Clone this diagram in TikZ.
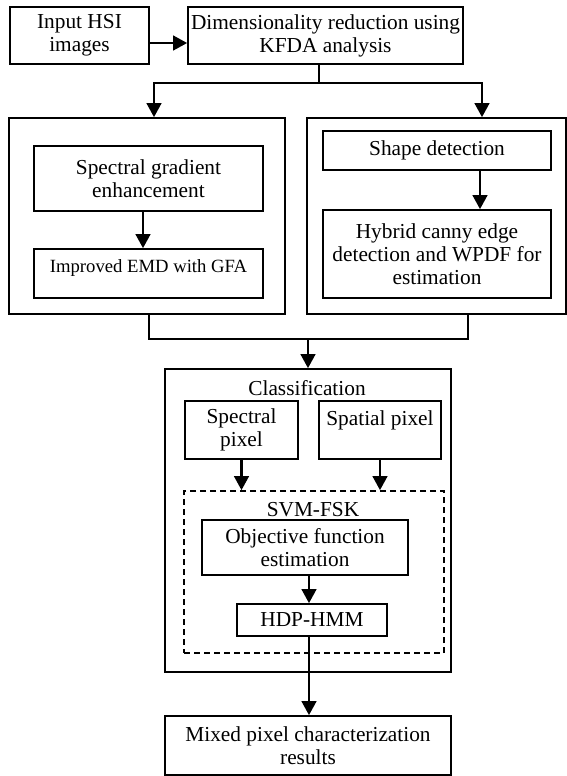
\documentclass[tikz,border=0pt]{standalone}
\usepackage{fontspec}
\setmainfont{Liberation Serif}
\usetikzlibrary{arrows.meta}

\begin{document}
\begin{tikzpicture}[x=0.75pt,y=0.75pt,yscale=-1,xscale=1,
    box/.style={draw, line width=1.3pt, inner sep=0pt, align=center, font=\fontsize{16}{17.3}\selectfont},
    grp/.style={draw, line width=1.3pt, inner sep=0pt},
    arr/.style={line width=1.7pt, -{Triangle[length=10.5pt,width=11pt]}},
    lnk/.style={line width=1.7pt},
    lbl/.style={inner sep=0pt, font=\fontsize{16}{17.3}\selectfont}]
    \useasboundingbox (0,0) rectangle (567,776);

    %Shape: Rectangle (top row)
    \node (inp) [box, minimum width=104.25pt, minimum height=42.75pt] at (79.5,35.5) {Input HSI\\images};
    \node (dim) [box, minimum width=206.25pt, minimum height=42.75pt] at (325.5,35.5) {Dimensionality reduction using\\KFDA analysis};

    %Shape: Rectangle (two branches)
    \node (lgrp) [grp, minimum width=207pt, minimum height=147pt] at (147,216) {};
    \node (rgrp) [grp, minimum width=194.25pt, minimum height=147pt] at (436.5,216) {};
    \node (sge) [box, minimum width=171.75pt, minimum height=48.75pt] at (148.5,178.5) {Spectral gradient\\enhancement};
    \node (emd) [box, font=\fontsize{14}{15.5}\selectfont, minimum width=171.75pt, minimum height=36.75pt] at (148.5,273.5) {Improved EMD with GFA\\[-5pt] \mbox{}};
    \node (shp) [box, minimum width=171pt, minimum height=29.25pt] at (437,150.5) {Shape detection};
    \node (hyb) [box, minimum width=171pt, minimum height=66pt] at (437,254) {Hybrid canny edge\\detection and WPDF for\\estimation};

    %Shape: Rectangle (classification)
    \node (cls) [grp, minimum width=214.5pt, minimum height=227.25pt] at (308,520.5) {};
    % Text Node
    \node (clst) [lbl] at (307,388) {Classification};
    \node (spx) [box, minimum width=84.75pt, minimum height=43.5pt] at (241.5,430) {Spectral\\pixel};
    \node (sppx) [box, minimum width=91.5pt, minimum height=43.5pt] at (380,430) {Spatial pixel\\ \mbox{}};
    \node (dsh) [grp, dash pattern={on 4.5pt off 3pt}, minimum width=195pt, minimum height=121.5pt] at (314,572) {};
    % Text Node
    \node (svmt) [lbl] at (313,510) {SVM-FSK};
    \node (obj) [box, minimum width=154.5pt, minimum height=41.25pt] at (305,547.5) {Objective function\\estimation};
    \node (hdp) [box, minimum width=112.5pt, minimum height=24pt] at (312,620) {HDP-HMM};

    %Shape: Rectangle (output)
    \node (mix) [box, minimum width=214.5pt, minimum height=44.25pt] at (308,745.5) {Mixed pixel characterization\\results};

    % bends of the connectors
    \coordinate (ia) at (0,43);
    \coordinate (brk) at (319,83);
    \coordinate (lx) at (154,83);
    \coordinate (rx) at (482,83);
    \coordinate (la) at (143,0);
    \coordinate (ra) at (480,0);
    \coordinate (ml) at (149,339);
    \coordinate (mr) at (468,339);
    \coordinate (mrg) at (308,339);
    \coordinate (va) at (309,0);

    %Straight Lines
    \draw [arr] (inp.east |- ia) -- (dim.west |- ia);
    \draw [lnk] (dim.south -| brk) -- (brk);
    \draw [arr] (brk) -| (lx |- lgrp.north);
    \draw [arr] (brk) -| (rx |- rgrp.north);
    \draw [arr] (la |- sge.south) -- (la |- emd.north);
    \draw [arr] (ra |- shp.south) -- (ra |- hyb.north);
    \draw [lnk] (ml |- lgrp.south) -- (ml) -- (mr) -- (mr |- rgrp.south);
    \draw [arr] (mrg) -- (mrg |- cls.north);
    \draw [arr] (spx) -- (spx |- dsh.north);
    \draw [arr] (sppx) -- (sppx |- dsh.north);
    \draw [arr] (va |- obj.south) -- (va |- hdp.north);
    \draw [arr] (va |- hdp.south) -- (va |- mix.north);
\end{tikzpicture}
\end{document}
